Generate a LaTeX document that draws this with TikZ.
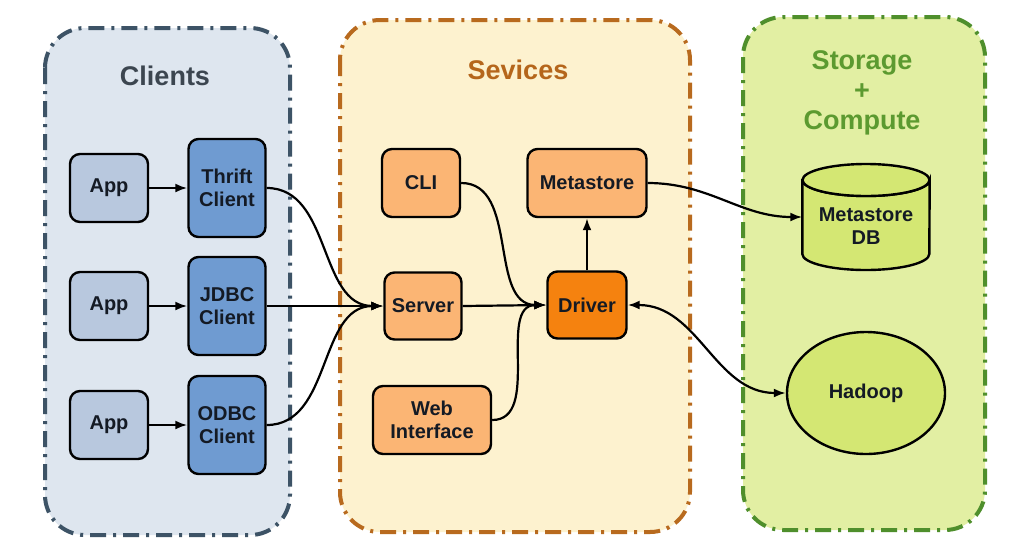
\documentclass[tikz,border=0pt]{standalone}
\usepackage{fontspec}
\setmainfont{Liberation Sans}
\usetikzlibrary{arrows.meta,shapes.geometric}
\definecolor{clfill}{HTML}{DEE6EF}
\definecolor{clline}{HTML}{3D5366}
\definecolor{cltitle}{HTML}{3C4650}
\definecolor{clbox}{HTML}{B8C8DE}
\definecolor{clcli}{HTML}{6F9BD1}
\definecolor{svfill}{HTML}{FDF2CF}
\definecolor{svline}{HTML}{B86A1E}
\definecolor{svtitle}{HTML}{B5661B}
\definecolor{svbox}{HTML}{FBB574}
\definecolor{drv}{HTML}{F5820F}
\definecolor{stfill}{HTML}{E2EFA3}
\definecolor{stline}{HTML}{4F8F2C}
\definecolor{sttitle}{HTML}{5C9A30}
\definecolor{stbox}{HTML}{D4E773}
\definecolor{txt}{HTML}{141A24}
\tikzset{
  panel/.style={line width=4pt, dash pattern=on 16pt off 7pt on 3pt off 7pt, rounded corners=40pt},
  title/.style={font=\bfseries\fontsize{27}{30}\selectfont, align=center},
  box/.style={draw=black, line width=2.4pt, rounded corners=10pt, align=center, inner sep=0pt,
    font=\bfseries\fontsize{20}{23}\selectfont, text=txt},
  arr/.style={line width=2.2pt, -{Latex[length=12pt,width=9pt]}},
  arrb/.style={line width=2.2pt, {Latex[length=12pt,width=9pt]}-{Latex[length=12pt,width=9pt]}}
}
\begin{document}
\begin{tikzpicture}[x=1pt,y=-1pt]
\useasboundingbox[fill=white] (0,0) rectangle (1023,550);
% panels
\draw[panel, draw=clline, fill=clfill] (45,28) rectangle (290,535);
\draw[panel, draw=svline, fill=svfill] (340,20) rectangle (690,532);
\draw[panel, draw=stline, fill=stfill] (743,17) rectangle (985,530);
% titles
\node[title, text=cltitle] (tcl) at (165,76) {Clients};
\node[title, text=svtitle] (tsv) at (518,70) {Sevices};
\node[title, text=sttitle] (tst) at (862,93) {Storage\\+\\Compute};
% clients
\node[box, fill=clbox, minimum width=78pt, minimum height=68pt] (app1) at (109,188) {App};
\node[box, fill=clcli, minimum width=77pt, minimum height=98pt] (thrift) at (227,188) {Thrift\\Client};
\node[box, fill=clbox, minimum width=78pt, minimum height=68pt] (app2) at (109,306) {App};
\node[box, fill=clcli, minimum width=77pt, minimum height=98pt] (jdbc) at (227,306) {JDBC\\Client};
\node[box, fill=clbox, minimum width=78pt, minimum height=68pt] (app3) at (109,425) {App};
\node[box, fill=clcli, minimum width=77pt, minimum height=98pt] (odbc) at (227,425) {ODBC\\Client};
% services
\node[box, fill=svbox, minimum width=78pt, minimum height=68pt] (cli) at (421,183) {CLI};
\node[box, fill=svbox, minimum width=119pt, minimum height=68pt] (meta) at (587,183) {Metastore};
\node[box, fill=svbox, minimum width=77pt, minimum height=67pt] (server) at (423,306) {Server};
\node[box, fill=drv, minimum width=79pt, minimum height=67pt] (driver) at (587,305) {Driver};
\node[box, fill=svbox, minimum width=118pt, minimum height=68pt] (web) at (432,420) {Web\\Interface};
% storage
\node[minimum width=127pt, minimum height=106pt, inner sep=0pt] (mdb) at (866,217) {};
\draw[line width=2.4pt, fill=stbox] (mdb.west |- 0,180) -- (mdb.west |- 0,254)
  arc[start angle=180, end angle=360, x radius=63.5pt, y radius=16pt]
  -- (mdb.east |- 0,180)
  arc[start angle=0, end angle=-180, x radius=63.5pt, y radius=16pt] -- cycle;
\draw[line width=2.4pt, fill=stbox] (866,180) ellipse[x radius=63.5pt, y radius=16pt];
\node[font=\bfseries\fontsize{20}{23}\selectfont, align=center, text=txt] (mdbt) at (866,226) {Metastore\\DB};
\node[ellipse, draw=black, line width=2.4pt, fill=stbox, minimum width=158pt, minimum height=122pt,
  inner sep=0pt, font=\bfseries\fontsize{20}{23}\selectfont, text=txt] (hadoop) at (866,393) {Hadoop};
% connectors
\draw[arr] (app1.east) -- (thrift.west);
\draw[arr] (app2.east) -- (jdbc.west);
\draw[arr] (app3.east) -- (odbc.west);
\draw[arr] (thrift.east) to[out=0,in=180] (server.west);
\draw[arr] (jdbc.east) -- (server.west);
\draw[arr] (odbc.east) to[out=0,in=180] (server.west);
\draw[arr] (cli.east) to[out=0,in=180] (driver.west);
\draw[arr] (server.east) -- (driver.west);
\draw[arr] (web.east) to[out=0,in=180] (driver.west);
\draw[arr] (driver.north) -- (meta.south);
\draw[arr] (meta.east) to[out=0,in=180] (mdb.west);
\draw[arrb] (driver.east) to[out=0,in=180] (hadoop.west);
\end{tikzpicture}
\end{document}
